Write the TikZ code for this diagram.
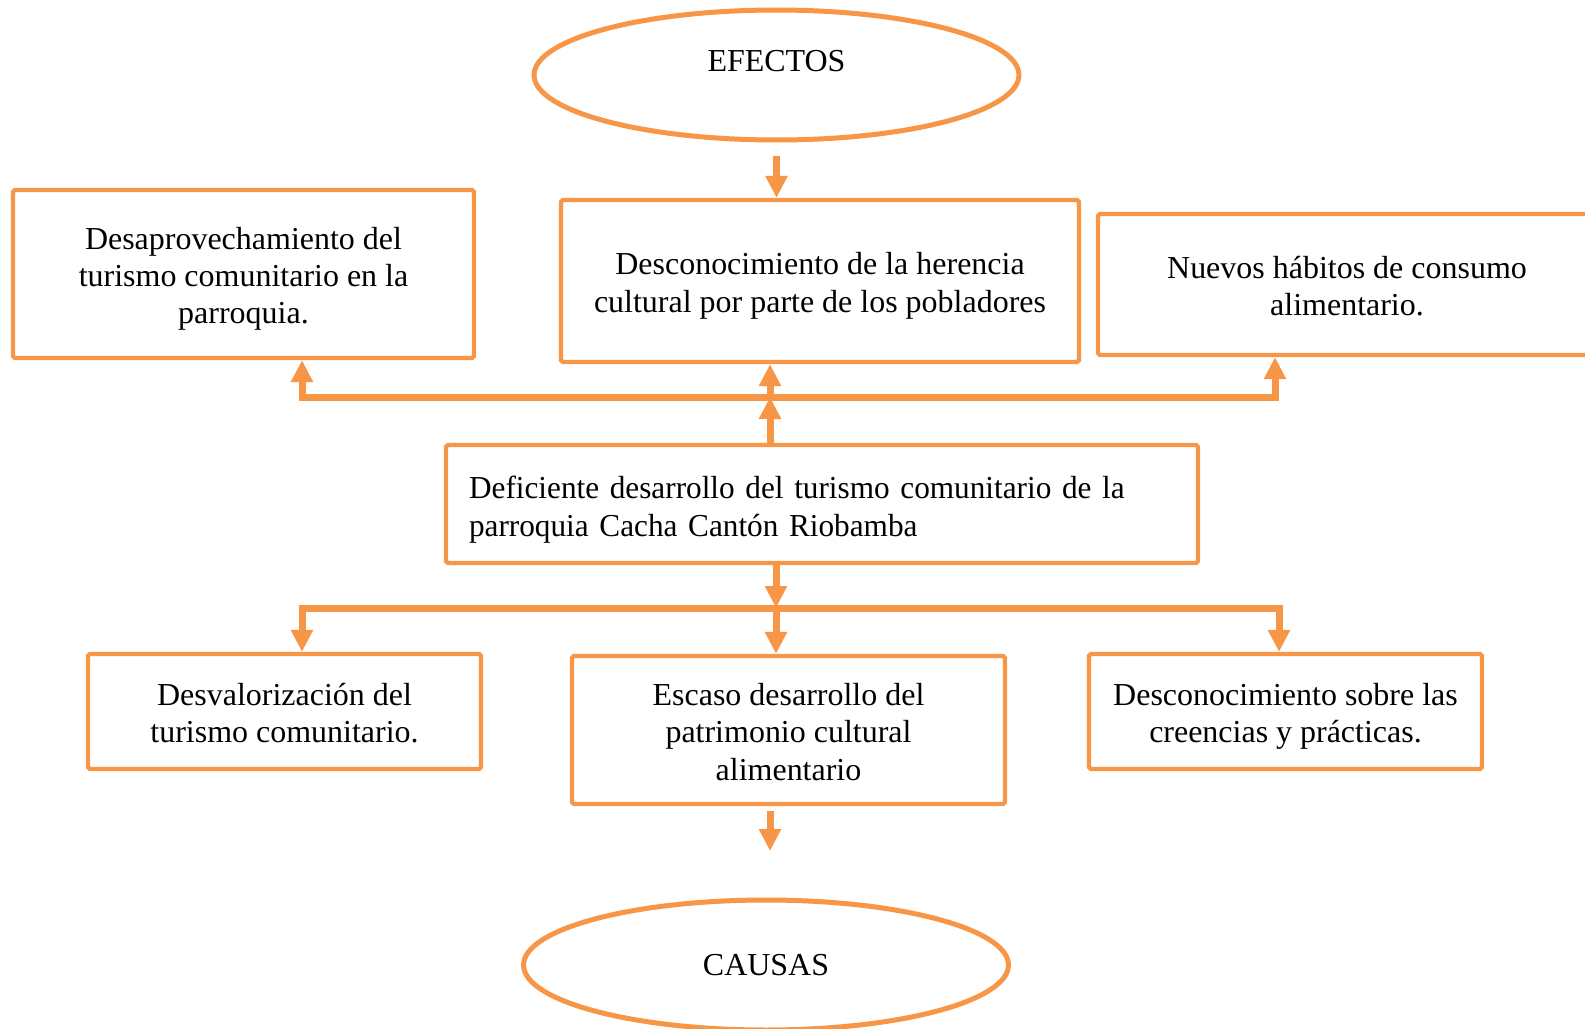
\documentclass[tikz,border=0pt]{standalone}
\usepackage{fontspec}
\setmainfont{Liberation Serif}
\newfontfamily\narrowserif{Liberation Serif}[FakeStretch=0.977]
\usetikzlibrary{positioning,arrows.meta,shapes.geometric}
\definecolor{cOrange}{HTML}{F79646}

\tikzset{
  box/.style={draw=cOrange, line width=0.085cm, rounded corners=1pt, align=center, inner sep=0pt},
  oval/.style={draw=cOrange, ellipse, line width=0.1cm, inner sep=0pt, minimum width=9.7cm, minimum height=2.6cm},
  conn/.style={draw=cOrange, line width=0.14cm, -{Triangle[length=0.44cm,width=0.42cm]}},
  bar/.style={draw=cOrange, line width=0.14cm, line cap=rect}
}

\begin{document}
\begin{tikzpicture}[x=0.02cm, y=-0.02cm, font=\fontsize{18.2}{21.3}\selectfont]
        \useasboundingbox (0,0) rectangle (1585,1028);
        % ovals
        \node[oval, text depth=0.56cm] (efectos) at (776.5,75) {EFECTOS};
        \node[oval] (causas) at (766,965) {CAUSAS};
        % effects
        \node[box, minimum width=9.22cm, minimum height=3.36cm, text height=60.7pt] (desaprov) at (243.5,274)
          {Desaprovechamiento del\\turismo comunitario en la\\parroquia.};
        \node[box, minimum width=10.36cm, minimum height=3.24cm, text height=39.4pt] (herencia) at (820,281)
          {Desconocimiento de la herencia\\cultural por parte de los pobladores};
        \node[box, minimum width=9.96cm, minimum height=2.82cm, text height=36.1pt] (habitos) at (1347,284.5)
          {Nuevos hábitos de consumo\\alimentario.};
        % problem
        \node[box, minimum width=15.04cm, minimum height=2.36cm, inner xsep=0.46cm, text height=19.3pt,
              text width=14.12cm, align=left, font={\narrowserif\fontsize{18.2}{21.3}\selectfont}] (problema) at (822,504)
          {Deficiente desarrollo del turismo comunitario de la\\parroquia Cacha Cantón Riobamba};
        % causes
        \node[box, minimum width=7.86cm, minimum height=2.3cm, text height=36pt] (desval) at (284.5,711.5)
          {Desvalorización del\\turismo comunitario.};
        \node[box, minimum width=8.66cm, minimum height=2.96cm, text height=57.3pt] (escaso) at (788.5,730)
          {Escaso desarrollo del\\patrimonio cultural\\alimentario};
        \node[box, minimum width=7.86cm, minimum height=2.3cm, text height=39.4pt] (creencias) at (1285.5,711.5)
          {Desconocimiento sobre las\\creencias y prácticas.};

        % junction points
        \coordinate (tL) at (302,397);
        \coordinate (tM) at (770,397);
        \coordinate (tR) at (1275,397);
        \coordinate (bL) at (302,608);
        \coordinate (bM) at (776,608);
        \coordinate (bR) at (1279,608);
        \coordinate (cA) at (770,851);

        % effects side
        \draw[conn, shorten <=0.28cm] (efectos.south) -- (efectos.south |- herencia.north);
        \draw[bar] (tL) -- (tR);
        \draw[conn] (tM |- problema.north) -- (tM);
        \draw[conn] (tL) -- (tL |- desaprov.south);
        \draw[conn] (tM) -- (tM |- herencia.south);
        \draw[conn] (tR) -- (tR |- habitos.south);
        % causes side
        \draw[conn] (bM |- problema.south) -- (bM);
        \draw[bar] (bL) -- (bR);
        \draw[conn] (bL) -- (bL |- desval.north);
        \draw[conn] (bM) -- (bM |- escaso.north);
        \draw[conn] (bR) -- (bR |- creencias.north);
        \draw[conn, shorten <=0.1cm] (cA |- escaso.south) -- (cA);
      \end{tikzpicture}
\end{document}
